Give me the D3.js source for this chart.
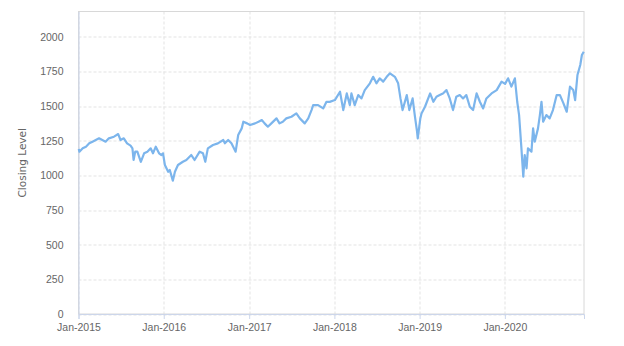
<!DOCTYPE html>
<html>
<head>
<meta charset="utf-8">
<script src="https://cdn.jsdelivr.net/npm/d3@7"></script>
<style>
  body { margin: 0; background: #fff; }
  svg { display: block; font-family: "DejaVu Sans", sans-serif; }
  .tick text { fill: #666; font-size: 10.5px; }
</style>
</head>
<body>
<svg id="chart" width="624" height="346"></svg>
<script>
// closing level, roughly every two weeks
var dates = [
  "2015-01-02","2015-01-05","2015-01-19","2015-02-02","2015-02-16","2015-03-02","2015-03-16","2015-03-30",
  "2015-04-13","2015-04-27","2015-05-11","2015-06-02","2015-06-20","2015-06-30","2015-07-14","2015-07-28",
  "2015-08-12","2015-08-20","2015-08-25","2015-09-01","2015-09-10","2015-09-25","2015-10-09","2015-10-23",
  "2015-11-06","2015-11-16","2015-11-28","2015-12-12","2015-12-22","2015-12-29",
  "2016-01-06","2016-01-20","2016-01-27","2016-02-09","2016-02-18","2016-03-02","2016-03-23","2016-04-07",
  "2016-04-28","2016-05-12","2016-06-03","2016-06-17","2016-06-27","2016-07-08","2016-07-30","2016-08-20",
  "2016-09-12","2016-09-19","2016-10-03","2016-10-17","2016-11-04","2016-11-15","2016-11-30","2016-12-07",
  "2016-12-23",
  "2017-01-05","2017-01-26","2017-02-10","2017-02-24","2017-03-08","2017-03-22","2017-04-06","2017-04-28",
  "2017-05-11","2017-05-25","2017-06-09","2017-07-01","2017-07-22","2017-08-06","2017-08-27","2017-09-11",
  "2017-09-25","2017-10-02","2017-10-23","2017-11-14","2017-11-28","2017-12-12",
  "2018-01-03","2018-01-25","2018-02-08","2018-02-23","2018-03-08","2018-03-15","2018-03-29","2018-04-13",
  "2018-04-27","2018-05-11","2018-06-02","2018-06-16","2018-06-30","2018-07-14","2018-07-29","2018-08-13",
  "2018-08-27","2018-09-17","2018-10-01","2018-10-11","2018-10-20","2018-11-07","2018-11-18","2018-12-02",
  "2018-12-12","2018-12-21","2018-12-24",
  "2019-01-04","2019-01-09","2019-01-24","2019-02-15","2019-03-01","2019-03-14","2019-03-28","2019-04-11",
  "2019-04-26","2019-05-10","2019-05-24","2019-06-07","2019-06-22","2019-07-06","2019-07-20","2019-08-04",
  "2019-08-18","2019-09-02","2019-09-16","2019-09-30","2019-10-14","2019-11-05","2019-11-27","2019-12-18",
  "2020-01-02","2020-01-15","2020-01-29","2020-02-13","2020-02-23","2020-03-02","2020-03-12","2020-03-20",
  "2020-03-26","2020-04-03","2020-04-09","2020-04-24","2020-05-01","2020-05-08","2020-05-22","2020-05-30",
  "2020-06-06","2020-06-13","2020-06-27","2020-07-11","2020-07-25","2020-08-10","2020-08-24","2020-09-08",
  "2020-09-22","2020-10-06","2020-10-20","2020-10-28","2020-11-07","2020-11-19","2020-11-26","2020-12-04"
];
var closes = [
  1190,1171,1195,1207,1231,1243,1255,1267,
  1255,1243,1267,1279,1298,1255,1267,1231,
  1215,1195,1111,1171,1171,1098,1159,1171,
  1195,1159,1207,1159,1147,1159,
  1075,1026,1039,962,1026,1075,1098,1111,
  1147,1111,1171,1159,1098,1195,1219,1231,
  1255,1231,1255,1231,1171,1291,1339,1387,
  1375,
  1363,1375,1387,1399,1375,1351,1375,1411,
  1375,1387,1411,1423,1447,1411,1375,1411,
  1471,1507,1507,1483,1531,1530,
  1543,1603,1471,1591,1507,1591,1507,1579,
  1555,1615,1664,1711,1664,1700,1676,1711,
  1736,1711,1664,1555,1471,1579,1471,1555,
  1423,1315,1267,
  1411,1447,1495,1591,1531,1567,1579,1591,
  1615,1555,1471,1567,1579,1555,1579,1495,
  1471,1591,1531,1483,1555,1591,1615,1676,
  1660,1700,1640,1700,1531,1435,1195,990,
  1147,1051,1195,1171,1339,1243,1339,1435,
  1531,1387,1435,1411,1471,1579,1579,1519,
  1459,1640,1615,1543,1724,1796,1868,1892
];
var yTicks = [0, 250, 500, 750, 1000, 1250, 1500, 1750, 2000];
var xTicks = ["2015-01-01","2016-01-01","2017-01-01","2018-01-01","2019-01-01","2020-01-01"];

var parse = d3.timeParse("%Y-%m-%d");
var data = dates.map(function(d, i) { return { date: parse(d), close: closes[i] }; });

var svg = d3.select("#chart"),
    margin = { top: 11.5, right: 40, bottom: 32, left: 78.5 },
    width = 624 - margin.left - margin.right,
    height = 346 - margin.top - margin.bottom;

var g = svg.append("g")
    .attr("transform", "translate(" + margin.left + "," + margin.top + ")");

var x = d3.scaleTime()
    .domain([parse("2015-01-01"), parse("2020-12-05")])
    .range([0, width]);

var y = d3.scaleLinear()
    .domain([0, 2182])
    .range([height, 0]);

// grid
g.selectAll(".hgrid")
    .data(yTicks)
    .enter().append("line")
    .attr("class", "hgrid")
    .attr("x1", 0).attr("x2", width)
    .attr("y1", function(d) { return Math.round(y(d)) + 0.5; })
    .attr("y2", function(d) { return Math.round(y(d)) + 0.5; })
    .attr("stroke", "#e3e3e3")
    .attr("stroke-dasharray", "3,2");

g.selectAll(".vgrid")
    .data(xTicks.map(parse))
    .enter().append("line")
    .attr("class", "vgrid")
    .attr("y1", 0).attr("y2", height)
    .attr("x1", function(d) { return Math.round(x(d)) + 0.5; })
    .attr("x2", function(d) { return Math.round(x(d)) + 0.5; })
    .attr("stroke", "#e3e3e3")
    .attr("stroke-dasharray", "3,2");

// plot border
g.append("rect")
    .attr("x", 0).attr("y", 0)
    .attr("width", width).attr("height", height)
    .attr("fill", "none")
    .attr("stroke", "#d8d8d8");

// axes
var xAxis = g.append("g")
    .attr("transform", "translate(0," + height + ")")
    .call(d3.axisBottom(x)
        .tickValues(xTicks.map(parse))
        .tickFormat(d3.timeFormat("%b-%Y"))
        .tickSize(5)
        .tickPadding(5));
xAxis.select(".domain").attr("stroke", "#ccd6eb");
xAxis.selectAll(".tick line").attr("stroke", "#ccd6eb");

var yAxis = g.append("g")
    .call(d3.axisLeft(y)
        .tickValues(yTicks)
        .tickFormat(d3.format("d"))
        .tickSize(0)
        .tickPadding(15));
yAxis.select(".domain").attr("stroke", "#ccd6eb");

svg.append("text")
    .attr("transform", "translate(26," + (margin.top + height / 2) + ") rotate(-90)")
    .attr("text-anchor", "middle")
    .attr("fill", "#666")
    .attr("font-size", "10.5px")
    .text("Closing Level");

var line = d3.line()
    .x(function(d) { return x(d.date); })
    .y(function(d) { return y(d.close); });

g.append("path")
    .datum(data)
    .attr("fill", "none")
    .attr("stroke", "#7cb5ec")
    .attr("stroke-width", 2.2)
    .attr("stroke-linejoin", "round")
    .attr("d", line);
</script>
</body>
</html>
